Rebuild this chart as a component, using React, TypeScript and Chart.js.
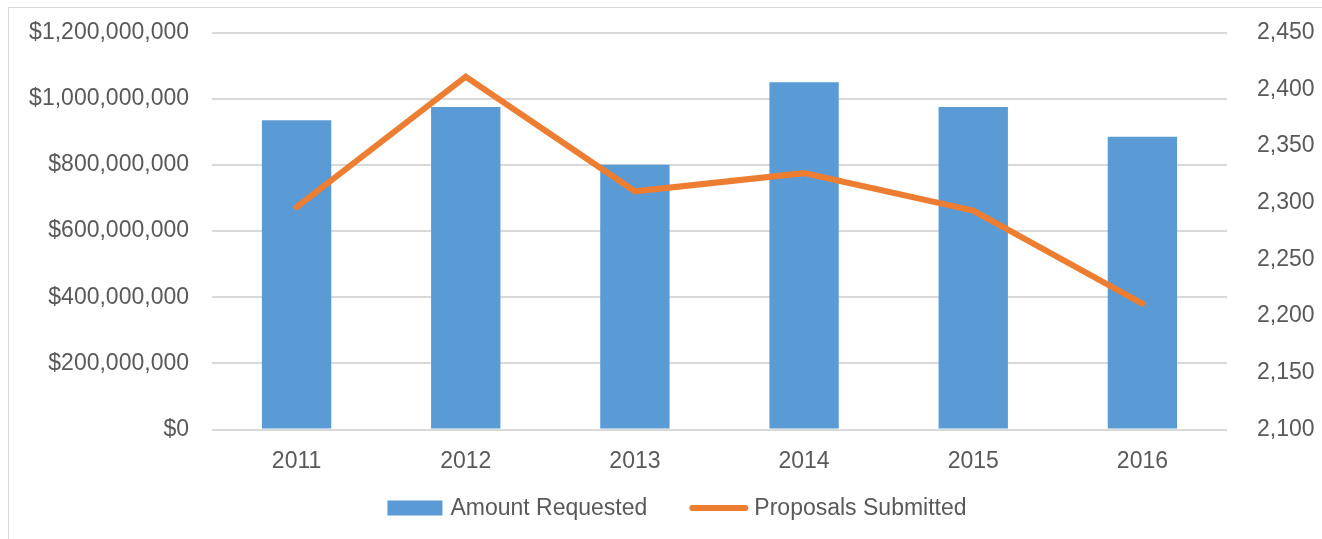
import React, { useEffect, useRef } from "react";
import { Chart, registerables } from "chart.js";

Chart.register(...registerables);

const years = ["2011", "2012", "2013", "2014", "2015", "2016"];
const amountRequested = [935000000, 975000000, 800000000, 1050000000, 975000000, 885000000];
const proposalsSubmitted = [2296, 2411, 2310, 2326, 2293, 2211];

const BLUE = "#5B9BD5";
const ORANGE = "#ED7D31";
const TEXT = "#595959";
const GRID = "#D9D9D9";
const FONT = "'Liberation Sans', Arial, sans-serif";
const FONT_SIZE = 23;

// Legend drawn below the x axis, centred on the canvas
const bottomLegend = {
  id: "bottomLegend",
  afterDraw(chart: any) {
    const ctx = chart.ctx as CanvasRenderingContext2D;
    const ds = chart.data.datasets;
    const y = chart.chartArea.bottom + 78.5;
    ctx.save();
    ctx.font = `${FONT_SIZE}px ${FONT}`;
    ctx.textBaseline = "middle";
    ctx.textAlign = "left";
    const symW = 55;
    const gapText = 8;
    const gapItem = 42;
    const w0 = ctx.measureText(ds[0].label).width;
    const w1 = ctx.measureText(ds[1].label).width;
    const total = symW + gapText + w0 + gapItem + symW + gapText + w1;
    let x = chart.width / 2 - total / 2 - 2;
    // bar item
    ctx.fillStyle = BLUE;
    ctx.fillRect(x, y - 7.5, symW, 15);
    x += symW + gapText;
    ctx.fillStyle = TEXT;
    ctx.fillText(ds[0].label, x, y + 1);
    x += w0 + gapItem;
    // line item
    ctx.strokeStyle = ORANGE;
    ctx.lineWidth = 6;
    ctx.lineCap = "round";
    ctx.beginPath();
    ctx.moveTo(x + 3, y);
    ctx.lineTo(x + symW + 1, y);
    ctx.stroke();
    x += symW + gapText + 2;
    ctx.fillStyle = TEXT;
    ctx.fillText(ds[1].label, x, y + 1);
    ctx.restore();
  },
};

export default function App() {
  const ref = useRef<HTMLCanvasElement | null>(null);

  useEffect(() => {
    if (!ref.current) return;
    const chart = new Chart(ref.current, {
      type: "bar",
      data: {
        labels: years,
        datasets: [
          {
            type: "bar",
            label: "Amount Requested",
            data: amountRequested,
            backgroundColor: BLUE,
            borderWidth: 0,
            categoryPercentage: 1,
            barPercentage: 0.41,
            yAxisID: "y",
            order: 1,
          },
          {
            type: "line",
            label: "Proposals Submitted",
            data: proposalsSubmitted,
            borderColor: ORANGE,
            backgroundColor: ORANGE,
            borderWidth: 6,
            borderCapStyle: "round",
            borderJoinStyle: "miter",
            pointRadius: 0,
            pointHoverRadius: 0,
            tension: 0,
            yAxisID: "y1",
            order: 0,
          } as any,
        ],
      },
      plugins: [bottomLegend],
      options: {
        responsive: false,
        animation: false,
        layout: { padding: { top: 32.5, left: 0, right: 0, bottom: 59.5 } },
        plugins: {
          tooltip: { enabled: false },
          legend: { display: false },
        },
        scales: {
          x: {
            grid: { display: false, drawTicks: false },
            border: { display: false },
            ticks: { color: TEXT, font: { family: FONT, size: FONT_SIZE }, padding: 18 },
            afterFit: (s: any) => {
              s.height = 50;
            },
          },
          y: {
            position: "left",
            min: 0,
            max: 1200000000,
            ticks: {
              stepSize: 200000000,
              color: TEXT,
              font: { family: FONT, size: FONT_SIZE },
              padding: 23,
              callback: (v: any) => "$" + Number(v).toLocaleString("en-US"),
            },
            grid: { color: GRID, lineWidth: 2, drawTicks: false },
            border: { display: false },
            afterFit: (s: any) => {
              s.width = 212;
              s.paddingTop = 14;
              s.paddingBottom = 14;
            },
          },
          y1: {
            position: "right",
            min: 2100,
            max: 2450,
            ticks: {
              stepSize: 50,
              color: TEXT,
              font: { family: FONT, size: FONT_SIZE },
              padding: 30,
              callback: (v: any) => Number(v).toLocaleString("en-US"),
            },
            grid: { drawOnChartArea: false, drawTicks: false },
            border: { display: false },
            afterFit: (s: any) => {
              s.width = 129;
              s.paddingTop = 14;
              s.paddingBottom = 14;
            },
          },
        },
      },
    });
    return () => chart.destroy();
  }, []);

  return (
    <div style={{ position: "fixed", left: 0, top: 0, width: 1322, height: 539, overflow: "hidden", background: "#fff" }}>
      <div
        style={{
          position: "absolute",
          left: 8,
          top: 7,
          width: 1400,
          height: 600,
          border: "1px solid #D9D9D9",
          boxSizing: "border-box",
        }}
      />
      <canvas ref={ref} width={1356} height={539} style={{ position: "absolute", left: 0, top: 0, display: "block" }} />
    </div>
  );
}
